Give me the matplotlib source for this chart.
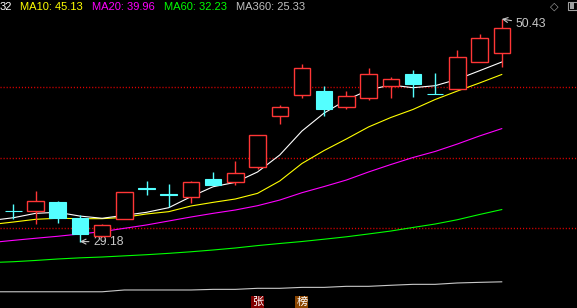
import matplotlib
matplotlib.use("Agg")
import matplotlib.pyplot as plt
from matplotlib.patches import Rectangle
import numpy as np

# daily candles (oldest -> newest)
opens  = [32.06, 32.12, 32.95, 31.42, 29.75, 31.33, 34.32, 33.70, 33.40, 35.15, 34.83, 36.27,
          41.14, 43.14, 43.55, 42.00, 42.91, 44.06, 45.18, 43.31, 43.72, 46.35, 47.15]
highs  = [32.79, 34.00, 33.08, 31.71, 30.88, 33.90, 34.96, 34.67, 34.96, 35.82, 36.87, 39.32,
          42.22, 46.13, 44.03, 43.53, 45.75, 44.86, 45.56, 45.27, 47.47, 49.00, 50.43]
lows   = [31.33, 30.88, 30.97, 29.18, 29.58, 31.33, 33.65, 32.50, 32.89, 34.60, 34.60, 36.13,
          40.43, 42.91, 41.19, 41.83, 42.72, 42.91, 43.01, 43.24, 43.72, 46.35, 45.82]
closes = [32.06, 33.02, 31.42, 29.90, 30.73, 33.88, 34.16, 33.62, 34.83, 34.60, 35.69, 39.32,
          42.00, 45.72, 41.86, 43.05, 45.15, 44.67, 44.25, 43.24, 46.77, 48.59, 49.54]

# moving averages, first value is the day before the first candle
ma5   = [31.19, 31.45, 31.87, 31.97, 31.61, 31.40, 31.68, 31.97, 32.41, 33.46, 34.41, 34.83,
         35.82, 37.44, 39.73, 41.45, 42.69, 43.65, 44.13, 43.87, 44.06, 44.67, 45.49, 46.32]
ma10  = [30.80, 31.04, 31.30, 31.40, 31.36, 31.36, 31.49, 31.81, 32.03, 32.57, 32.92, 33.24,
         33.78, 34.96, 36.63, 37.87, 38.97, 40.12, 41.02, 41.79, 42.74, 43.55, 44.32, 45.13]
ma20  = [29.08, 29.29, 29.49, 29.68, 29.90, 30.12, 30.44, 30.76, 31.14, 31.52, 31.87, 32.19,
         32.60, 33.14, 33.84, 34.43, 35.05, 35.82, 36.53, 37.20, 37.78, 38.49, 39.26, 39.96]
ma60  = [27.17, 27.25, 27.37, 27.51, 27.62, 27.70, 27.81, 27.92, 28.05, 28.20, 28.37, 28.56,
         28.79, 28.99, 29.18, 29.40, 29.63, 29.90, 30.18, 30.52, 30.85, 31.26, 31.76, 32.23]
ma360 = [24.38, 24.38, 24.38, 24.38, 24.38, 24.38, 24.55, 24.55, 24.55, 24.55, 24.61, 24.61,
         24.71, 24.71, 24.80, 24.80, 24.90, 24.90, 25.00, 25.09, 25.09, 25.22, 25.28, 25.33]

grid_levels = [43.91, 37.13, 30.44]
header = [("32", "white"), ("MA10: 45.13", "#ffff00"), ("MA20: 39.96", "#ff00ff"),
          ("MA60: 32.23", "#00ff00"), ("MA360: 25.33", "#c0c0c0")]
markers = [(11, "张", "#800000"), (13, "榜", "#8b4500")]

UP = "#ff3636"
DOWN = "#54ffff"

plt.rcParams['font.family'] = ['Liberation Sans', 'Noto Sans CJK SC', 'DejaVu Sans']

fig = plt.figure(figsize=(5.77, 3.08), dpi=100, facecolor="black")
ax = fig.add_axes([0, 0, 1, 1])
ax.set_facecolor("black")
ax.set_xlim(-0.599, 25.39)
ax.set_ylim(22.83, 52.245)
ax.set_axis_off()

for lv in grid_levels:
    ax.axhline(lv, color="#e00000", lw=1.0, linestyle=(0, (0.8, 1.4)), zorder=1)

ma_x = np.arange(-1, len(ma5) - 1)
ax.plot(ma_x, ma360, color="#c8c8c8", lw=0.8, zorder=2)
ax.plot(ma_x, ma60, color="#00ff00", lw=0.8, zorder=2)
ax.plot(ma_x, ma20, color="#ff00ff", lw=0.8, zorder=2)
ax.plot(ma_x, ma10, color="#ffff00", lw=0.8, zorder=2)
ax.plot(ma_x, ma5, color="white", lw=0.8, zorder=2)

w = 0.74
for i, (o, h, l, c) in enumerate(zip(opens, highs, lows, closes)):
    top, bot = max(o, c), min(o, c)
    if c > o:
        ax.vlines(i, top, h, color=UP, lw=1.0, zorder=3)
        ax.vlines(i, l, bot, color=UP, lw=1.0, zorder=3)
        ax.add_patch(Rectangle((i - w / 2, bot), w, top - bot, facecolor="black",
                               edgecolor=UP, lw=1.0, zorder=4))
    else:
        ax.vlines(i, l, h, color=DOWN, lw=1.0, zorder=3)
        ax.add_patch(Rectangle((i - w / 2, bot), w, top - bot, facecolor=DOWN,
                               edgecolor=DOWN, lw=0.8, zorder=4))

# max / min labels
imax = int(np.argmax(highs))
imin = int(np.argmin(lows))
ax.annotate(f"{highs[imax]:.2f}", xy=(imax, highs[imax]), xytext=(10, -3.5),
            textcoords="offset points", color="#c8c8c8", fontsize=8.8, va="center",
            arrowprops=dict(arrowstyle="->", color="#c8c8c8", lw=0.8, shrinkA=1, shrinkB=0))
ax.annotate(f"{lows[imin]:.2f}", xy=(imin, lows[imin]), xytext=(9.5, -0.3),
            textcoords="offset points", color="#c8c8c8", fontsize=8.8, va="center",
            arrowprops=dict(arrowstyle="->", color="#c8c8c8", lw=0.8, shrinkA=1, shrinkB=0))

# header
xs = [0, 20, 92, 164, 236]
for (txt, col), px in zip(header, xs):
    fig.text(px / 577, 1 - 6.5 / 308, txt, color=col, fontsize=8, ha="left", va="center")

fig.text(554.5 / 577, 1 - 6.5 / 308, "◇", color="#a0a0a0", fontsize=8,
         ha="center", va="center", family="DejaVu Sans")
fig.add_artist(Rectangle((567.5 / 577, 1 - 10 / 308), 9 / 577, 8 / 308,
                         transform=fig.transFigure, fill=False, ec="#a0a0a0", lw=0.8))
fig.add_artist(Rectangle((569.5 / 577, 1 - 8.5 / 308), 4 / 577, 5 / 308,
                         transform=fig.transFigure, fc="#a0a0a0", ec="none"))

# event markers at the bottom
for i, ch, bg in markers:
    ax.text(i, 6 / 308, ch, transform=ax.get_xaxis_transform(),
            color="white", fontsize=8, ha="center", va="center",
            family=["Noto Sans CJK SC", "DejaVu Sans"],
            bbox=dict(boxstyle="square,pad=0.08", fc=bg, ec="none"))

fig.savefig("out.png", dpi=100, facecolor="black")
